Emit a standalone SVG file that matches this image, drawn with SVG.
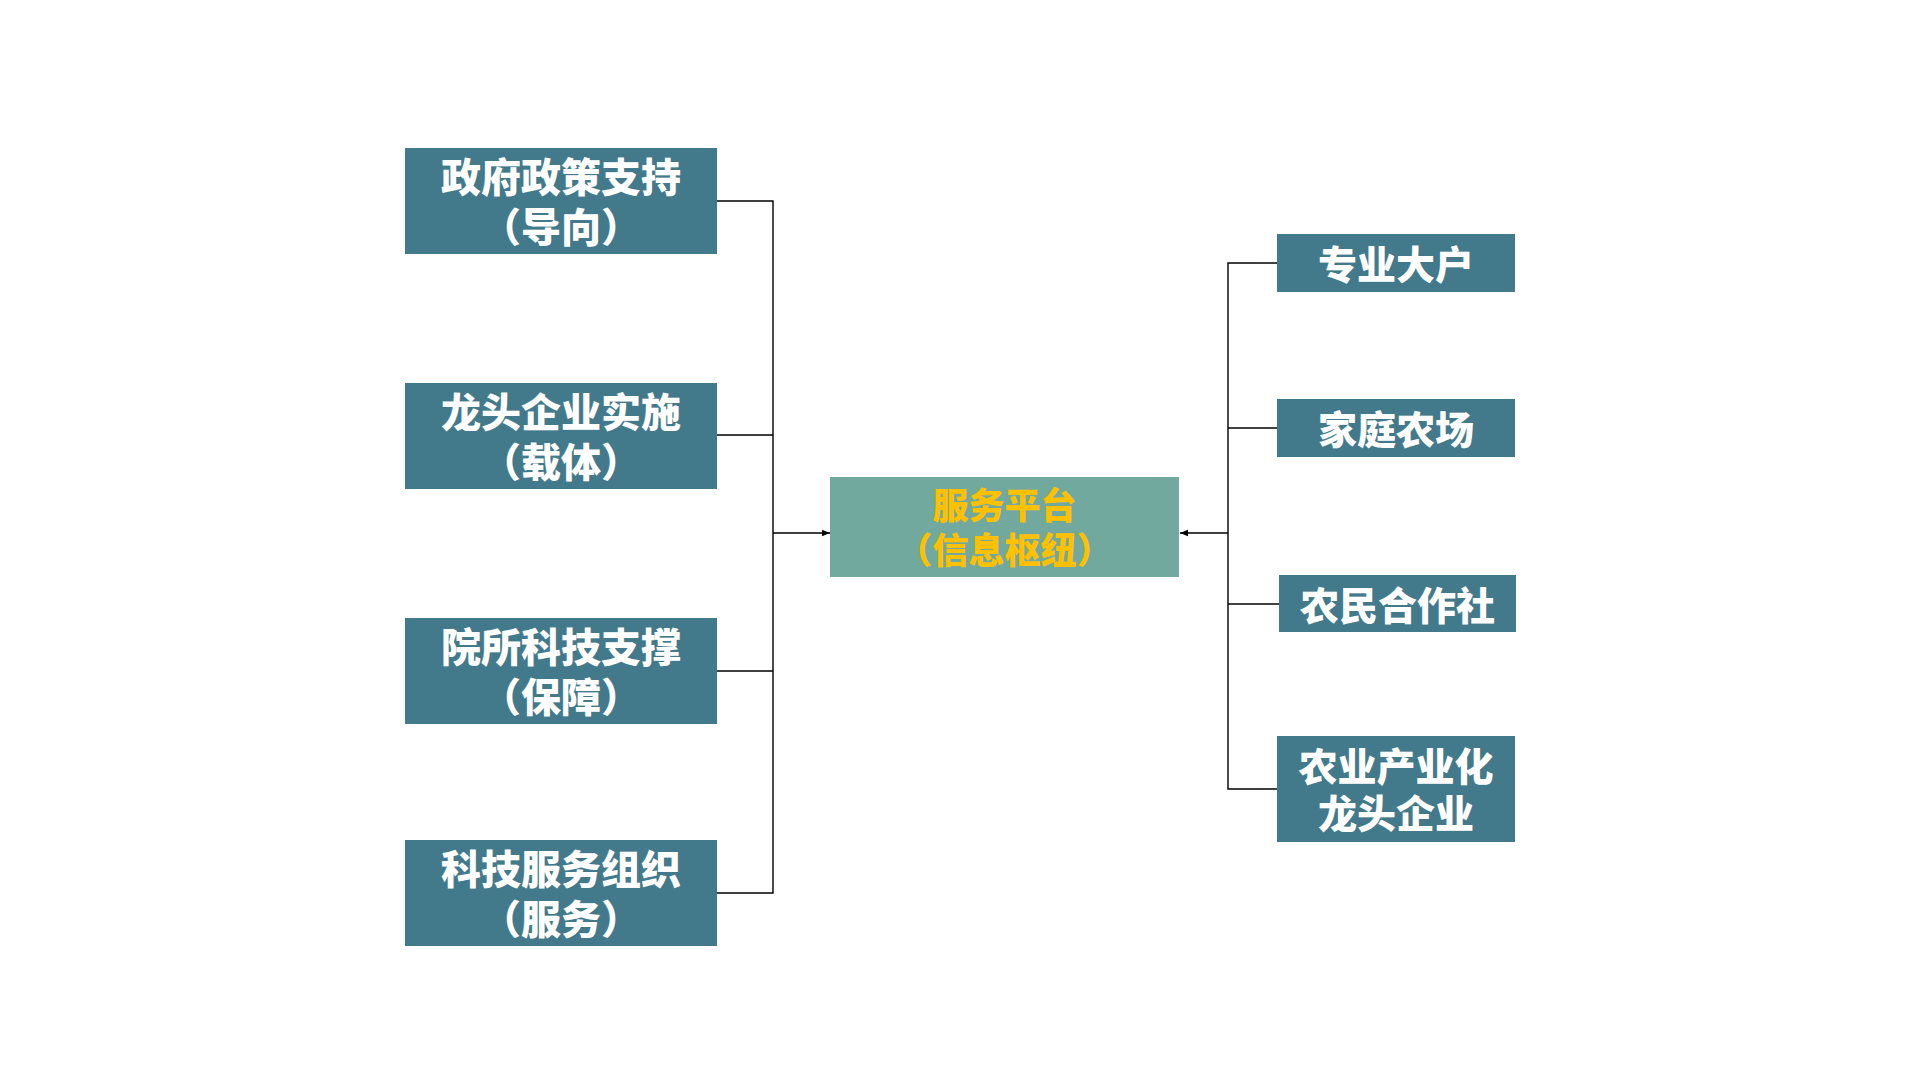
<svg xmlns="http://www.w3.org/2000/svg" width="1920" height="1080" viewBox="0 0 1920 1080">
<style>
.box{fill:#427A8C}
.hub{fill:#71A99F}
.t{font-family:"Noto Sans CJK SC","Noto Sans",sans-serif;font-weight:900;font-size:40px;fill:#FFFFFF;text-anchor:middle}
.r{font-size:39px}
.h{font-size:36px;fill:#FFC000}
.ln{stroke:#000;stroke-width:1.4;fill:none}
</style>
<defs>
<marker id="ah" viewBox="0 0 10 10" refX="10" refY="5" markerWidth="8" markerHeight="8" markerUnits="userSpaceOnUse" orient="auto">
<path d="M0,1 L10,5 L0,9 Z" fill="#000"/>
</marker>
</defs>
<rect width="1920" height="1080" fill="#FFFFFF"/>
<g id="connectors">
<path class="ln" d="M717,201 H773 V893 H717"/>
<path class="ln" d="M717,435 H773"/>
<path class="ln" d="M717,671 H773"/>
<path class="ln" d="M773,533 H830" marker-end="url(#ah)"/>
<path class="ln" d="M1277,263 H1228 V789 H1277"/>
<path class="ln" d="M1228,428 H1277"/>
<path class="ln" d="M1228,604 H1279"/>
<path class="ln" d="M1228,533 H1180" marker-end="url(#ah)"/>
</g>
<g id="gov">
<rect class="box" x="405" y="148" width="312" height="106"/>
<text class="t" x="561" y="192">政府政策支持<tspan x="561" dy="50">（导向）</tspan></text>
</g>
<g id="leader">
<rect class="box" x="405" y="383" width="312" height="106"/>
<text class="t" x="561" y="427">龙头企业实施<tspan x="561" dy="50">（载体）</tspan></text>
</g>
<g id="institute">
<rect class="box" x="405" y="618" width="312" height="106"/>
<text class="t" x="561" y="662">院所科技支撑<tspan x="561" dy="50">（保障）</tspan></text>
</g>
<g id="techservice">
<rect class="box" x="405" y="840" width="312" height="106"/>
<text class="t" x="561" y="884">科技服务组织<tspan x="561" dy="50">（服务）</tspan></text>
</g>
<g id="platform">
<rect class="hub" x="830" y="477" width="349" height="100"/>
<text class="t h" x="1004.5" y="519">服务平台<tspan x="1004.5" dy="45">（信息枢纽）</tspan></text>
</g>
<g id="specialist">
<rect class="box" x="1277" y="234" width="238" height="58"/>
<text class="t r" x="1396" y="279">专业大户</text>
</g>
<g id="family">
<rect class="box" x="1277" y="399" width="238" height="58"/>
<text class="t r" x="1396" y="444">家庭农场</text>
</g>
<g id="coop">
<rect class="box" x="1279" y="575" width="237" height="57"/>
<text class="t r" x="1397.5" y="620">农民合作社</text>
</g>
<g id="agri">
<rect class="box" x="1277" y="736" width="238" height="106"/>
<text class="t r" x="1396" y="781">农业产业化<tspan x="1396" dy="47">龙头企业</tspan></text>
</g>
</svg>
